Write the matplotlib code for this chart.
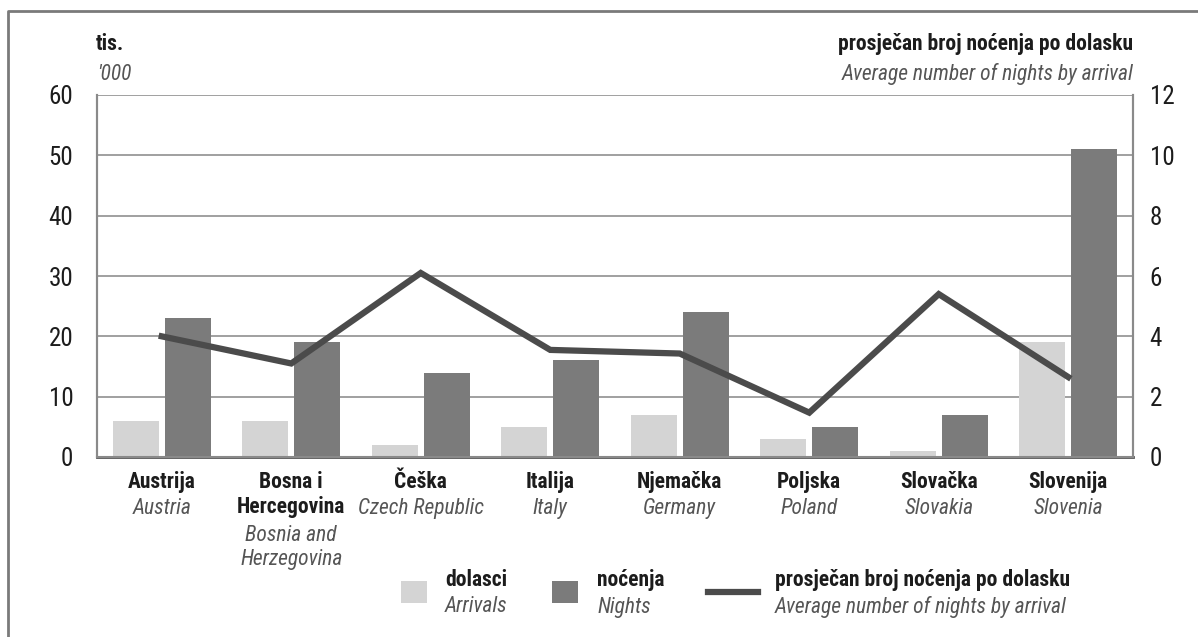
import matplotlib
matplotlib.use("Agg")
import matplotlib.pyplot as plt
import matplotlib.transforms as mtransforms
from matplotlib.patches import Rectangle
from matplotlib.lines import Line2D
import numpy as np

# Podaci (tis.)
zemlje_hr = ["Austrija", "Bosna i\nHercegovina", "Češka", "Italija", "Njemačka", "Poljska", "Slovačka", "Slovenija"]
zemlje_en = ["Austria", "Bosnia and\nHerzegovina", "Czech Republic", "Italy", "Germany", "Poland", "Slovakia", "Slovenia"]
dolasci = [6, 6, 2, 5, 7, 3, 1, 19]
nocenja = [23, 19, 14, 16, 24, 5, 7, 51]
prosjek = [4.0, 3.1, 6.1, 3.55, 3.43, 1.47, 5.4, 2.65]

lijeve_oznake = [0, 10, 20, 30, 40, 50, 60]
desne_oznake = [0, 2, 4, 6, 8, 10, 12]

# Boje
c_dol = "#d4d4d4"
c_noc = "#7b7b7b"
c_linija = "#4b4b4b"
c_tekst = "#1c1c1c"
c_ital = "#555555"

FONT = ["Roboto Condensed", "Barlow Condensed", "DejaVu Sans"]
plt.rcParams["font.family"] = FONT
FS = 15.5

W, H = 1198, 637
fig = plt.figure(figsize=(W / 100, H / 100), dpi=100)

def fx(px):
    return px / W

def fy(py):
    return 1 - py / H

ax = fig.add_axes([fx(97), fy(457), fx(1133) - fx(97), fy(95) - fy(457)])
ax2 = ax.twinx()

x = np.arange(len(zemlje_hr))
sirina = 0.355
ax.bar(x - 0.2, dolasci, width=sirina, color=c_dol, zorder=2)
ax.bar(x + 0.2, nocenja, width=sirina, color=c_noc, zorder=2)

ax.set_xlim(-0.5, len(x) - 0.5)
ax.set_ylim(0, 60)
ax.set_yticks(lijeve_oznake)
ax.yaxis.grid(True, color="#a0a0a0", linewidth=1.4, zorder=0)
ax.set_axisbelow(True)
ax.set_xticks([])

ax2.plot(x, prosjek, color=c_linija, linewidth=4.5, solid_joinstyle="miter", zorder=5)
ax2.set_ylim(0, 12)
ax2.set_yticks(desne_oznake)

for a in (ax, ax2):
    for s in a.spines.values():
        s.set_color("#8a8a8a")
        s.set_linewidth(1.5)
    a.spines["top"].set_visible(False)
    a.tick_params(length=0, labelsize=18, colors=c_tekst)
ax.spines["bottom"].set_color("#555555")
ax.spines["bottom"].set_linewidth(2)
ax.tick_params(axis="y", pad=17)
ax2.tick_params(axis="y", pad=12)

# nazivi zemalja ispod osi
trans = mtransforms.blended_transform_factory(ax.transData, fig.transFigure)
for i, (hr, en) in enumerate(zip(zemlje_hr, zemlje_en)):
    n = hr.count("\n")
    ax.text(i, fy(471), hr, transform=trans, ha="center", va="top", fontsize=FS,
            fontweight="bold", color=c_tekst, linespacing=1.2)
    ax.text(i, fy(471 + 27 * (n + 1)), en, transform=trans, ha="center", va="top",
            fontsize=FS, fontstyle="italic", color=c_ital, linespacing=1.2)

# naslovi osi
fig.text(fx(96), fy(44), "tis.", ha="left", va="center", fontsize=FS, fontweight="bold", color=c_tekst)
fig.text(fx(97), fy(74), "'000", ha="left", va="center", fontsize=FS, fontstyle="italic", color=c_ital)
fig.text(fx(1133), fy(44), "prosječan broj noćenja po dolasku", ha="right", va="center",
         fontsize=FS, fontweight="bold", color=c_tekst)
fig.text(fx(1133), fy(74), "Average number of nights by arrival", ha="right", va="center",
         fontsize=FS, fontstyle="italic", color=c_ital)

# legenda
def kvadrat(x0, boja):
    fig.add_artist(Rectangle((fx(x0), fy(603)), fx(26), 22 / H, transform=fig.transFigure,
                             color=boja, lw=0))

kvadrat(401, c_dol)
kvadrat(552, c_noc)
fig.add_artist(Line2D([fx(708), fx(758)], [fy(592), fy(592)], transform=fig.transFigure,
                      color=c_linija, linewidth=4.5))
for x0, hr, en in [(445, "dolasci", "Arrivals"), (597, "noćenja", "Nights"),
                   (775, "prosječan broj noćenja po dolasku", "Average number of nights by arrival")]:
    fig.text(fx(x0), fy(580), hr, ha="left", va="center", fontsize=FS, fontweight="bold", color=c_tekst)
    fig.text(fx(x0), fy(607), en, ha="left", va="center", fontsize=FS, fontstyle="italic", color=c_ital)

# okvir slike
fig.add_artist(Line2D([fx(8), fx(8), fx(1198)], [fy(637), fy(11), fy(11)], transform=fig.transFigure,
                      color="#7a7a7a", linewidth=2))

fig.savefig("out.png", dpi=100)
